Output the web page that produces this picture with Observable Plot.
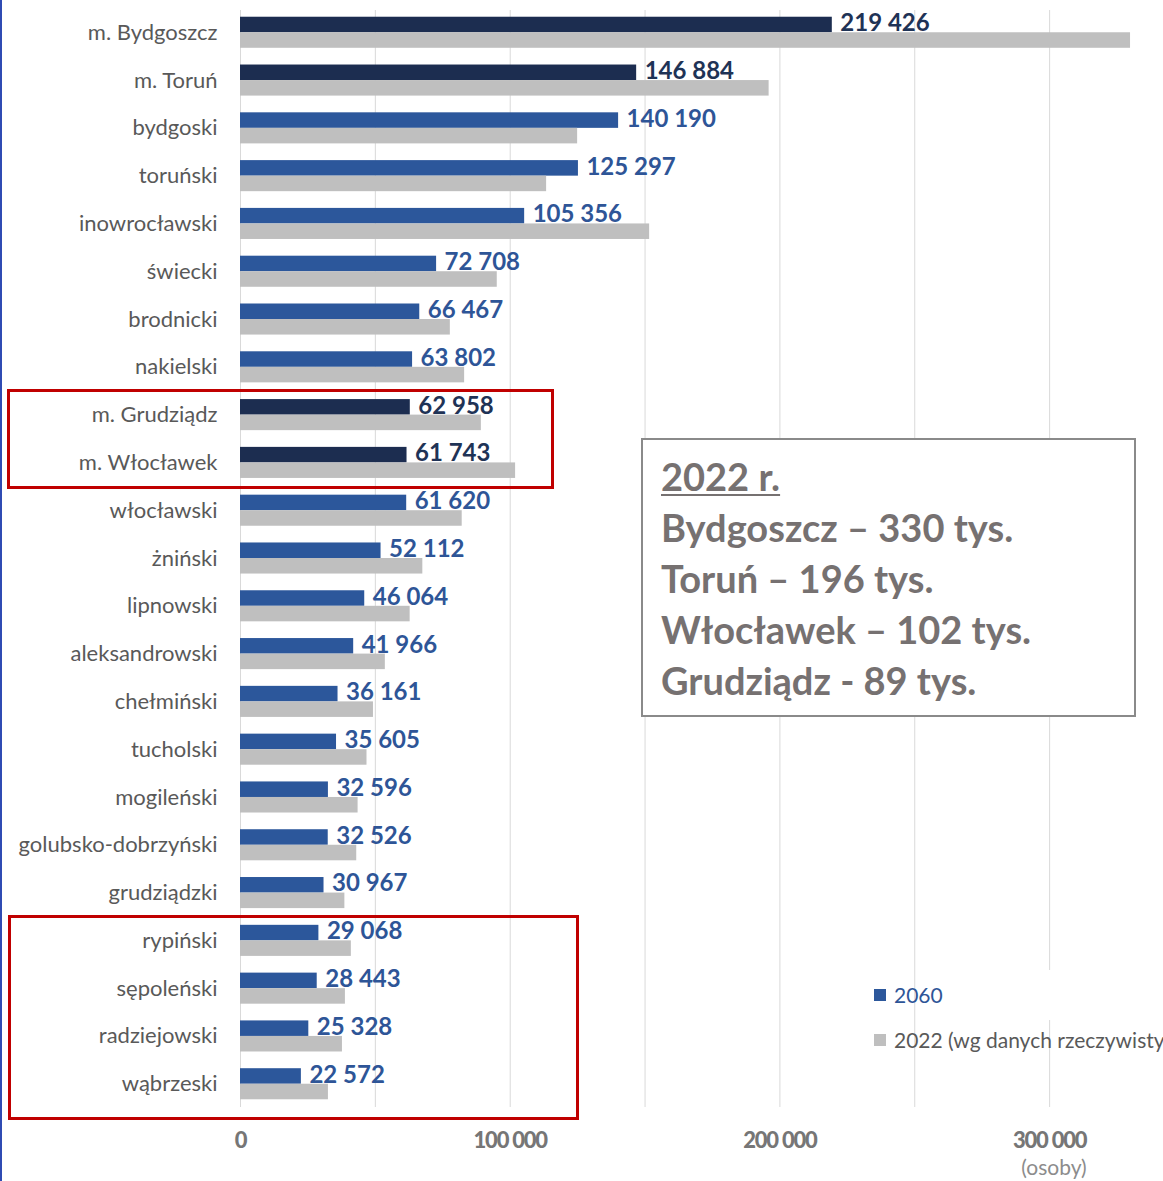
<!DOCTYPE html>
<html>
<head>
<meta charset="utf-8">
<script src="https://cdn.jsdelivr.net/npm/d3@7"></script>
<script src="https://cdn.jsdelivr.net/npm/@observablehq/plot@0.6"></script>
<style>
  html, body { margin: 0; padding: 0; background: #fff; overflow: hidden; }
  #wrap { position: relative; width: 1163px; height: 1181px; font-family: Lato, "Open Sans", sans-serif; }
  #chart svg { display: block; }
  #chart g[aria-label="x-axis tick label"] text { letter-spacing: -1.2px; }
  .abs { position: absolute; }
  #leftline { left: 0; top: 0; width: 2px; height: 1181px; background: #2f4bb3; }
  .redbox { border: 3px solid #c00000; box-sizing: border-box; }
  #note { left: 641px; top: 438px; width: 495px; height: 279px; box-sizing: border-box; border: 2px solid #8a8a8a; background: #fff;
          padding: 11px 0 0 18px; color: #767171; font-weight: 700; font-size: 38px; line-height: 51px; white-space: nowrap; }
  #note .t { text-decoration: underline; text-decoration-thickness: 2px; text-underline-offset: 3px; }
  #legmask { left: 925px; top: 970px; width: 238px; height: 50px; background: #fff; }
  .leg { font-size: 21px; white-space: nowrap; display: flex; align-items: center; }
  .leg .sw { width: 12px; height: 12px; margin-right: 8px; display: inline-block; }
  #unit { left: 994px; top: 1154px; width: 120px; text-align: center; font-size: 21px; color: #8c8c8c; }
</style>
</head>
<body>
<div id="wrap">
  <div id="chart"></div>
</div>
<script>
const categories = ["m. Bydgoszcz","m. Toruń","bydgoski","toruński","inowrocławski","świecki","brodnicki","nakielski","m. Grudziądz","m. Włocławek","włocławski","żniński","lipnowski","aleksandrowski","chełmiński","tucholski","mogileński","golubsko-dobrzyński","grudziądzki","rypiński","sępoleński","radziejowski","wąbrzeski"];
const values2060 = [219426,146884,140190,125297,105356,72708,66467,63802,62958,61743,61620,52112,46064,41966,36161,35605,32596,32526,30967,29068,28443,25328,22572];
const values2022 = [330000,196000,125000,113500,151700,95200,77800,83100,89300,102000,82200,67600,62900,53700,49300,46900,43600,43100,38700,41100,38900,37800,32600];
const cities = ["m. Bydgoszcz","m. Toruń","m. Grudziądz","m. Włocławek"];
const xTicks = [0,100000,200000,300000];
const gridTicks = [0,50000,100000,150000,200000,250000,300000];
const seriesNames = ["2060","2022 (wg danych rzeczywistych)"];
const noteTitle = "2022 r.";
const noteLines = ["Bydgoszcz – 330 tys.","Toruń – 196 tys.","Włocławek – 102 tys.","Grudziądz - 89 tys."];
const unitLabel = "(osoby)";

const colors = { city: "#1c2d50", county: "#2c579b", past: "#bfbfbf", cityText: "#1f3356", countyText: "#2e5597" };
const locale = d3.formatLocale({decimal: ",", thousands: "\u00a0", grouping: [3], currency: ["", ""]});
const fmt = locale.format(",d");

const rows = categories.map((c, i) => ({cat: c, v2060: values2060[i], v2022: values2022[i], city: cities.includes(c)}));

const W = 1163, H = 1181, mt = 0, mb = 65, ml = 240, mr = 6;
const pad = 0.35;
const step = (H - mt - mb) / (categories.length + pad);
const half = step * (1 - pad) / 2;

const chart = Plot.plot({
  width: W, height: H,
  marginLeft: ml, marginRight: mr, marginTop: mt, marginBottom: mb,
  x: {domain: [0, 340000], label: null},
  y: {domain: categories, padding: pad, round: false, label: null},
  style: {fontFamily: "Lato, 'Open Sans', sans-serif", background: "transparent", overflow: "visible"},
  marks: [
    Plot.ruleX(gridTicks, {x: d => d, stroke: "#d9d9d9", strokeWidth: 1, insetTop: 10, insetBottom: 9}),
    Plot.barX(rows, {x: "v2060", y: "cat", fill: d => d.city ? colors.city : colors.county, insetBottom: half}),
    Plot.barX(rows, {x: "v2022", y: "cat", fill: colors.past, insetTop: half}),
    Plot.text(rows, {x: "v2060", y: "cat", text: d => fmt(d.v2060), dx: 8, dy: -half / 2 - 1.5, textAnchor: "start",
      fill: d => d.city ? colors.cityText : colors.countyText, fontWeight: "bold", fontSize: 24}),
    Plot.axisY({tickSize: 0, tickPadding: 23, fontSize: 22, fill: "#595959", label: null}),
    Plot.axisX({ticks: xTicks, tickSize: 0, tickPadding: 16, tickFormat: fmt, fontWeight: 900, fontSize: 22,
      fill: "#767676", label: null})
  ]
});
document.getElementById("chart").appendChild(chart);

const wrap = document.getElementById("wrap");
function addDiv(id, cls, css, html) {
  const d = document.createElement("div");
  if (id) d.id = id;
  d.className = "abs " + (cls || "");
  Object.assign(d.style, css || {});
  if (html != null) d.innerHTML = html;
  wrap.appendChild(d);
  return d;
}
addDiv("leftline");

// red highlight frames
const frames = [
  {left: "7px", top: "389px", width: "547px", height: "100px"},
  {left: "8px", top: "915px", width: "571px", height: "205px"}
];
frames.forEach(f => addDiv(null, "redbox", f));

// note box
const note = addDiv("note", "", {});
const t = document.createElement("div"); t.innerHTML = `<span class="t">${noteTitle}</span>`; note.appendChild(t);
noteLines.forEach(l => { const d = document.createElement("div"); d.textContent = l; note.appendChild(d); });

// legend
addDiv("legmask");
addDiv(null, "leg", {left: "874px", top: "982px", color: colors.countyText},
  `<span class="sw" style="background:${colors.county}"></span>${seriesNames[0]}`);
addDiv(null, "leg", {left: "874px", top: "1027px", color: "#595959"},
  `<span class="sw" style="background:${colors.past}"></span>${seriesNames[1]}`);

addDiv("unit", "", {}, unitLabel);
</script>
</body>
</html>
